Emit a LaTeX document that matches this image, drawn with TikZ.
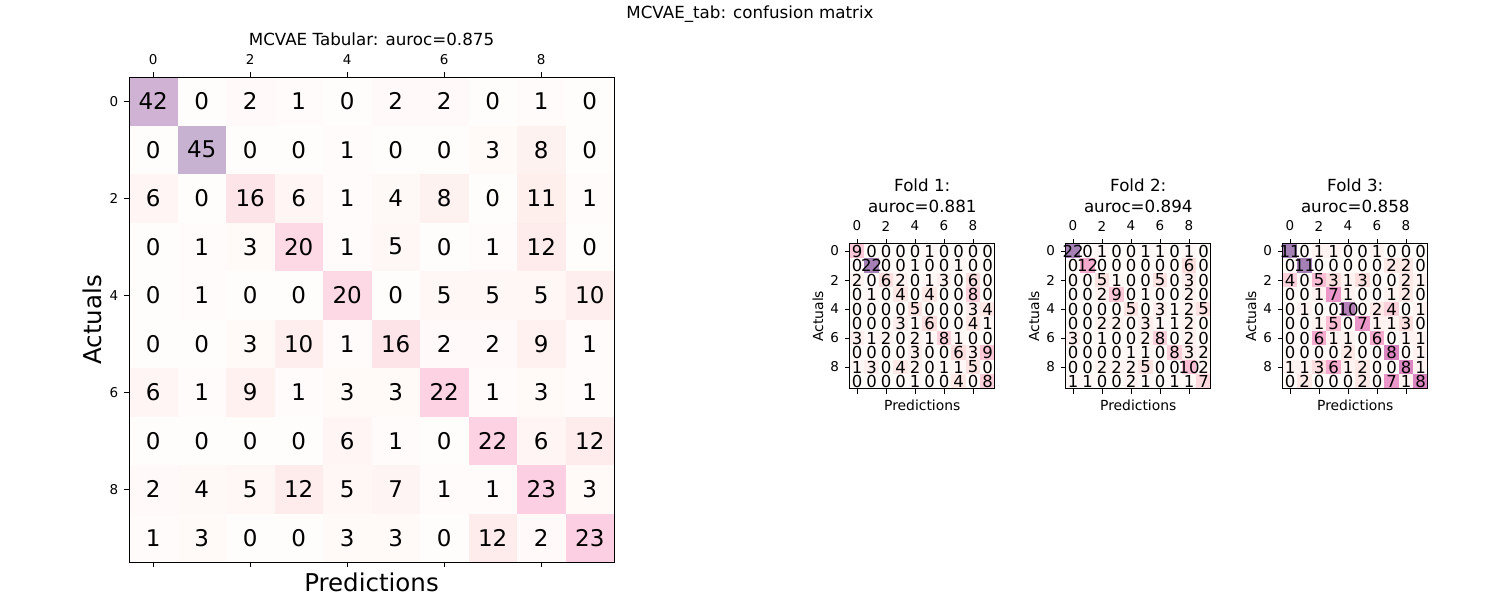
\documentclass[tikz,border=0pt]{standalone}
\usepackage{fontspec}
\setmainfont{DejaVu Sans}
\def\cmRA{{255,253,252,250,247,221,174,122,73}}
\def\cmGA{{247,224,197,159,104,52,1,1,0}}
\def\cmBA{{243,221,192,181,161,151,126,119,106}}
\tikzset{
  cmnum/.style={inner sep=0pt, text=black},
  cmframe/.style={line width=1pt},
  cmtick/.style={line width=1pt},
  ticklab/.style={inner sep=0pt, font=\fontsize{13.5}{13.5}\selectfont},
  titlelab/.style={inner sep=0pt, font=\fontsize{16.7}{16.7}\selectfont},
  biglab/.style={inner sep=0pt, font=\fontsize{24.5}{24.5}\selectfont},
  smalllab/.style={inner sep=0pt, font=\fontsize{13.9}{13.9}\selectfont},
}
% #1 name, #2 x0, #3 y0, #4 cell, #5 vmax, #6 alpha, #7 font size, #8 data
\newcommand\cmmatrix[8]{%
  \foreach \row [count=\r from 0] in {#8} {
    \foreach \v [count=\c from 0] in \row {
      \pgfmathsetmacro\cmT{\v/#5*8}
      \pgfmathtruncatemacro\cmI{min(floor(\cmT),7)}
      \pgfmathtruncatemacro\cmJ{\cmI+1}
      \pgfmathsetmacro\cmF{\cmT-\cmI}
      \pgfmathsetmacro\cmR{(255-#6*(255-(\cmRA[\cmI]+\cmF*(\cmRA[\cmJ]-\cmRA[\cmI]))))/255}
      \pgfmathsetmacro\cmG{(255-#6*(255-(\cmGA[\cmI]+\cmF*(\cmGA[\cmJ]-\cmGA[\cmI]))))/255}
      \pgfmathsetmacro\cmB{(255-#6*(255-(\cmBA[\cmI]+\cmF*(\cmBA[\cmJ]-\cmBA[\cmI]))))/255}
      \definecolor{cmcol}{rgb}{\cmR,\cmG,\cmB}
      \fill[cmcol] ({#2+\c*#4},{#3+\r*#4}) rectangle ++(#4,#4);
    }
  }
  \foreach \row [count=\r from 0] in {#8} {
    \foreach \v [count=\c from 0] in \row {
      \node[cmnum, font=\fontsize{#7}{#7}\selectfont] (#1-\r-\c) at ({#2+(\c+0.5)*#4},{#3+(\r+0.5)*#4}) {\v};
    }
  }
  \draw[cmframe] (#2,#3) rectangle ++({10*#4},{10*#4});
  \foreach \k in {0,2,4,6,8} {
    \draw[cmtick] ({#2+(\k+0.5)*#4},{#3}) -- ++(0,-4.9);
    \draw[cmtick] ({#2+(\k+0.5)*#4},{#3+10*#4}) -- ++(0,4.9);
    \draw[cmtick] ({#2},{#3+(\k+0.5)*#4}) -- ++(-4.9,0);
    \node[ticklab] (#1-tx\k) at ({#2+(\k+0.5)*#4},{#3-17.7}) {\k};
    \node[ticklab, anchor=east] (#1-ty\k) at ({#2-10.5},{#3+(\k+0.5)*#4}) {\k};
  }
}
\begin{document}
\begin{tikzpicture}[x=1pt,y=-1pt]
\useasboundingbox[fill=white] (0,0) rectangle (1500,600);
\node[titlelab, anchor=base] (sup) at (750,18.5) {MCVAE\_tab: confusion matrix};
% big matrix
\cmmatrix{big}{129}{77}{48.5}{45}{0.3}{23}{
{42,0,2,1,0,2,2,0,1,0},
{0,45,0,0,1,0,0,3,8,0},
{6,0,16,6,1,4,8,0,11,1},
{0,1,3,20,1,5,0,1,12,0},
{0,1,0,0,20,0,5,5,5,10},
{0,0,3,10,1,16,2,2,9,1},
{6,1,9,1,3,3,22,1,3,1},
{0,0,0,0,6,1,0,22,6,12},
{2,4,5,12,5,7,1,1,23,3},
{1,3,0,0,3,3,0,12,2,23}}
\node[titlelab] (bigtitle) at (371.5,39) {MCVAE Tabular: auroc=0.875};
\node[biglab] (bigx) at (371.5,582) {Predictions};
\node[biglab, rotate=90] (bigy) at (92,320) {Actuals};
% fold 1
\cmmatrix{fa}{849.75}{243.75}{14.5}{22}{0.5}{16.5}{
{9,0,0,0,0,1,0,0,0,0},
{0,22,0,0,1,0,0,1,0,0},
{2,0,6,2,0,1,3,0,6,0},
{0,1,0,4,0,4,0,0,8,0},
{0,0,0,0,5,0,0,0,3,4},
{0,0,0,3,1,6,0,0,4,1},
{3,1,2,0,2,1,8,1,0,0},
{0,0,0,0,3,0,0,6,3,9},
{1,3,0,4,2,0,1,1,5,0},
{0,0,0,0,1,0,0,4,0,8}}
\node[titlelab] (fat1) at (922.25,185) {Fold 1:};
\node[titlelab] (fat2) at (922.25,206) {auroc=0.881};
\node[smalllab] (fax) at (922.25,405) {Predictions};
\node[smalllab, rotate=90] (fay) at (818,316.25) {Actuals};
% fold 2
\cmmatrix{fb}{1065.75}{243.75}{14.5}{22}{0.5}{16.5}{
{22,0,1,0,0,1,1,0,1,0},
{0,12,0,0,0,0,0,0,6,0},
{0,0,5,1,0,0,5,0,3,0},
{0,0,2,9,0,1,0,0,2,0},
{0,0,0,0,5,0,3,1,2,5},
{0,0,2,2,0,3,1,1,2,0},
{3,0,1,0,0,2,8,0,2,0},
{0,0,0,0,1,1,0,8,3,2},
{0,0,2,2,2,5,0,0,10,2},
{1,1,0,0,2,1,0,1,1,7}}
\node[titlelab] (fbt1) at (1138.25,185) {Fold 2:};
\node[titlelab] (fbt2) at (1138.25,206) {auroc=0.894};
\node[smalllab] (fbx) at (1138.25,405) {Predictions};
\node[smalllab, rotate=90] (fby) at (1034,316.25) {Actuals};
% fold 3
\cmmatrix{fc}{1282.75}{243.75}{14.5}{11}{0.5}{16.5}{
{11,0,1,1,0,0,1,0,0,0},
{0,11,0,0,0,0,0,2,2,0},
{4,0,5,3,1,3,0,0,2,1},
{0,0,1,7,1,0,0,1,2,0},
{0,1,0,0,10,0,2,4,0,1},
{0,0,1,5,0,7,1,1,3,0},
{0,0,6,1,1,0,6,0,1,1},
{0,0,0,0,2,0,0,8,0,1},
{1,1,3,6,1,2,0,0,8,1},
{0,2,0,0,0,2,0,7,1,8}}
\node[titlelab] (fct1) at (1355.25,185) {Fold 3:};
\node[titlelab] (fct2) at (1355.25,206) {auroc=0.858};
\node[smalllab] (fcx) at (1355.25,405) {Predictions};
\node[smalllab, rotate=90] (fcy) at (1251,316.25) {Actuals};
\end{tikzpicture}
\end{document}
